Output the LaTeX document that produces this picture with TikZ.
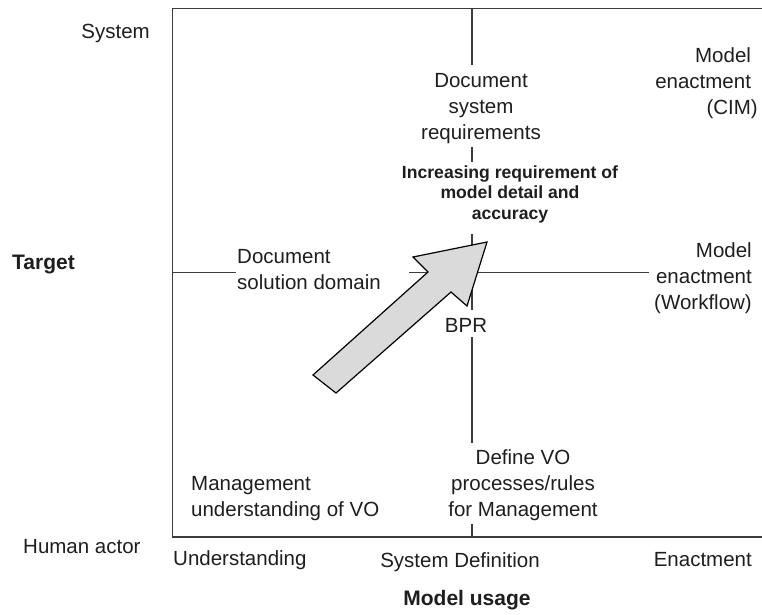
\documentclass[tikz,border=0pt]{standalone}
\usepackage{fontspec}
\setmainfont{Liberation Sans}
\definecolor{gridgray}{HTML}{3C3C3C}
\definecolor{inkgray}{HTML}{1E1E1E}
\definecolor{arrowfill}{HTML}{DADADA}
\begin{document}
\begin{tikzpicture}[x=1pt,y=-1pt,
  gridline/.style={draw=gridgray,line width=1.4pt},
  lbl/.style={inner sep=0pt,text=inkgray,font={\fontsize{20.5}{26}\selectfont}},
  axislbl/.style={lbl,font={\fontsize{21}{26}\selectfont\bfseries}},
  notelbl/.style={inner sep=0pt,text=inkgray,font={\fontsize{17.6}{20.5}\selectfont\bfseries}},
  bigarrow/.style={draw=black,line width=1.2pt,fill=arrowfill,line join=miter}]
\useasboundingbox (0,0) rectangle (762,614);

% frame of the chart (open to the right)
\coordinate (tl) at (172.7,8.5);
\coordinate (tr) at (762,8.5);
\coordinate (bl) at (172.7,537);
\coordinate (br) at (762,537);
\draw[gridline] (tr) -- (tl) -- (bl) -- (br);

% vertical divider, interrupted by its labels
\coordinate (v0) at (472,8.5);
\coordinate (v1) at (472,65);
\coordinate (v2) at (472,147);
\coordinate (v3) at (472,162);
\coordinate (v4) at (472,234);
\coordinate (v5) at (472,310);
\coordinate (v6) at (472,337);
\coordinate (v7) at (472,443);
\coordinate (v8) at (472,524);
\coordinate (v9) at (472,537);
\draw[gridline] (v0) -- (v1);
\draw[gridline] (v2) -- (v3);
\draw[gridline] (v4) -- (v5);
\draw[gridline] (v6) -- (v7);
\draw[gridline] (v8) -- (v9);

% horizontal divider
\coordinate (h0) at (172.7,272.7);
\coordinate (h1) at (236,272.7);
\coordinate (h2) at (409,272.7);
\coordinate (h3) at (649,272.7);
\draw[gridline] (h0) -- (h1);
\draw[gridline] (h2) -- (h3);

% broad arrow: increasing requirement
\draw[bigarrow] (313,375) -- (336,393) -- (451,292) -- (467,306)
  -- (487,242) -- (413,257) -- (428,272) -- cycle;

% quadrant labels
\node[lbl,align=center] (docsys) at (481,109) {Document\\system\\requirements};
\node[lbl,align=right,anchor=east] (cim) at (758,83) {Model\phantom{)}\\enactment\phantom{)}\\(CIM)};
\node[notelbl,align=center] (incr) at (510,194) {Increasing requirement of\\model detail and\\accuracy};
\node[lbl,align=left,anchor=west] (docsol) at (237,270) {Document\\solution domain};
\node[lbl,align=right,anchor=east] (wflow) at (752,278) {Model\\enactment\\(Workflow)};
\node[lbl] (bpr) at (466,325) {BPR};
\node[lbl,align=left,anchor=west] (mgmt) at (191,498.5) {Management\\understanding of VO};
\node[lbl,align=center] (defvo) at (523,485) {Define VO\\processes/rules\\for Management};

% target axis
\node[lbl,anchor=east] (sys) at (150,33) {System};
\node[axislbl,anchor=west] (target) at (12,264) {Target};
\node[lbl,anchor=west] (human) at (23,547) {Human actor};

% usage axis
\node[lbl,anchor=west] (und) at (173,560) {Understanding};
\node[lbl] (sysdef) at (460,562) {System Definition};
\node[lbl,anchor=east] (enact) at (752,560) {Enactment};
\node[axislbl] (usage) at (467,600) {Model usage};
\end{tikzpicture}
\end{document}
